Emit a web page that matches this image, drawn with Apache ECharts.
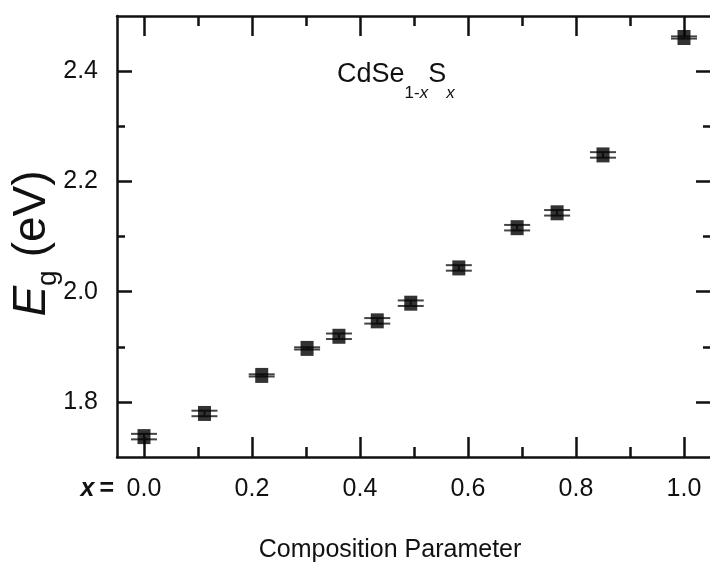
<!DOCTYPE html>
<html>
<head>
<meta charset="utf-8">
<script src="https://cdn.jsdelivr.net/npm/echarts@6/dist/echarts.min.js"></script>
<style>
html,body{margin:0;padding:0;background:#fff;}
#chart{width:710px;height:577px;}
</style>
</head>
<body>
<div id="chart"></div>
<script>
// Composition parameter x and band gap Eg (eV)
const compositionX = [0.0, 0.112, 0.218, 0.302, 0.361, 0.432, 0.494, 0.583, 0.691, 0.765, 0.850, 1.0];
const bandGapEg   = [1.737, 1.779, 1.848, 1.897, 1.919, 1.947, 1.979, 2.043, 2.116, 2.143, 2.248, 2.461];
const bandGapErr  = [0.005, 0.005, 0.002, 0.002, 0.005, 0.005, 0.005, 0.005, 0.005, 0.005, 0.005, 0.002];
const xMajorTicks = [0.0, 0.2, 0.4, 0.6, 0.8, 1.0];
const xMinorTicks = [0.1, 0.3, 0.5, 0.7, 0.9];
const yMajorTicks = [1.8, 2.0, 2.2, 2.4];
const yMinorTicks = [1.9, 2.1, 2.3];
const xRange = [-0.05, 1.05];
const yRange = [1.7, 2.5];

const sans = '"Liberation Sans", Arial, sans-serif';
const ink = '#111';
const lineW = 2.5;
const tickFont = 25;

function xAxisDef(pos, ticks, len, showLine, showLabels) {
  return {
    type: 'value', position: pos, min: xRange[0], max: xRange[1],
    axisLine: { show: showLine, onZero: false, lineStyle: { color: ink, width: lineW } },
    axisTick: { show: true, inside: true, length: len, customValues: ticks, lineStyle: { color: ink, width: lineW } },
    axisLabel: showLabels ? {
      show: true, customValues: ticks, margin: 20, color: ink, fontFamily: sans, fontSize: tickFont,
      formatter: function (v) {
        const s = v.toFixed(1);
        if (Math.abs(v) < 1e-9) return '{px|x}{peq|=}{num|' + s + '}{pad|}';
        return s;
      },
      rich: {
        px: { fontFamily: sans, fontSize: tickFont, fontWeight: 'bold', fontStyle: 'italic', color: ink, width: 19, align: 'left' },
        peq: { fontFamily: sans, fontSize: tickFont, fontWeight: 'bold', color: ink, width: 27, align: 'left' },
        num: { fontFamily: sans, fontSize: tickFont, color: ink },
        pad: { width: 46 }
      }
    } : { show: false },
    splitLine: { show: false }
  };
}
function yAxisDef(pos, ticks, len, showLine, showLabels) {
  return {
    type: 'value', position: pos, min: yRange[0], max: yRange[1],
    axisLine: { show: showLine, onZero: false, lineStyle: { color: ink, width: lineW } },
    axisTick: { show: true, inside: true, length: len, customValues: ticks, lineStyle: { color: ink, width: lineW } },
    axisLabel: showLabels ? {
      show: true, customValues: ticks, margin: 19, color: ink, fontFamily: sans, fontSize: tickFont,
      formatter: function (v) { return v.toFixed(1); }
    } : { show: false },
    splitLine: { show: false }
  };
}

const xMain = xAxisDef('bottom', xMajorTicks, 20, true, true);
xMain.name = 'Composition Parameter';
xMain.nameLocation = 'middle';
xMain.nameGap = 81;
xMain.nameMoveOverlap = false;
xMain.nameTextStyle = { fontFamily: sans, fontSize: 25, color: ink, padding: [0, 48, 0, 0] };

const yMain = yAxisDef('left', yMajorTicks, 15, true, true);
yMain.name = '{e|E}{g|g}{u|(eV)}';
yMain.nameLocation = 'middle';
yMain.nameRotate = 90;
yMain.nameGap = 55;
yMain.nameMoveOverlap = false;
yMain.nameTextStyle = {
  padding: [0, 14, 0, 0],
  rich: {
    e: { fontFamily: sans, fontSize: 46, fontStyle: 'italic', color: ink, lineHeight: 48, verticalAlign: 'top' },
    g: { fontFamily: sans, fontSize: 28, color: ink, lineHeight: 53, verticalAlign: 'bottom' },
    u: { fontFamily: sans, fontSize: 46, color: ink, lineHeight: 48, verticalAlign: 'top', padding: [0, 0, 0, 13] }
  }
};

const errData = compositionX.map((x, i) => [x, bandGapEg[i], bandGapErr[i]]);
const ptData = compositionX.map((x, i) => [x, bandGapEg[i]]);

const chart = echarts.init(document.getElementById('chart'), null, { renderer: 'canvas' });
chart.setOption({
  backgroundColor: '#fff',
  animation: false,
  grid: { left: 117, top: 16, right: -1, bottom: 120, containLabel: false, outerBoundsMode: 'none' },
  xAxis: [
    xMain,
    xAxisDef('bottom', xMinorTicks, 10, false, false),
    xAxisDef('top', xMajorTicks, 20, true, false),
    xAxisDef('top', xMinorTicks, 10, false, false)
  ],
  yAxis: [
    yMain,
    yAxisDef('left', yMinorTicks, 8, false, false),
    yAxisDef('right', yMajorTicks, 15, true, false),
    yAxisDef('right', yMinorTicks, 8, false, false)
  ],
  graphic: [{
    type: 'text', left: 337, top: 61,
    style: {
      text: '{m|CdSe}{s|1-}{si|x}{m|S}{si|x}',
      rich: {
        m: { fontFamily: sans, fontSize: 27, fill: ink, lineHeight: 30, verticalAlign: 'top' },
        s: { fontFamily: sans, fontSize: 17, fill: ink, lineHeight: 41, verticalAlign: 'bottom' },
        si: { fontFamily: sans, fontSize: 17, fontStyle: 'italic', fill: ink, lineHeight: 41, verticalAlign: 'bottom' }
      }
    }
  }],
  series: [
    {
      type: 'custom', xAxisIndex: 0, yAxisIndex: 0, z: 2,
      data: errData,
      renderItem: function (params, api) {
        const x = api.value(0), y = api.value(1), e = api.value(2);
        const hi = api.coord([x, y + e]);
        const lo = api.coord([x, y - e]);
        const hw = 13;
        const st = { stroke: '#444', lineWidth: 2 };
        return {
          type: 'group',
          children: [
            { type: 'line', shape: { x1: hi[0] - hw, y1: hi[1], x2: hi[0] + hw, y2: hi[1] }, style: st },
            { type: 'line', shape: { x1: lo[0] - hw, y1: lo[1], x2: lo[0] + hw, y2: lo[1] }, style: st },
            { type: 'line', shape: { x1: hi[0], y1: hi[1], x2: lo[0], y2: lo[1] }, style: st }
          ]
        };
      }
    },
    {
      type: 'scatter', xAxisIndex: 0, yAxisIndex: 0, z: 3,
      symbol: 'rect', symbolSize: [13, 15],
      itemStyle: { color: '#000' },
      data: ptData
    }
  ]
});
</script>
</body>
</html>
